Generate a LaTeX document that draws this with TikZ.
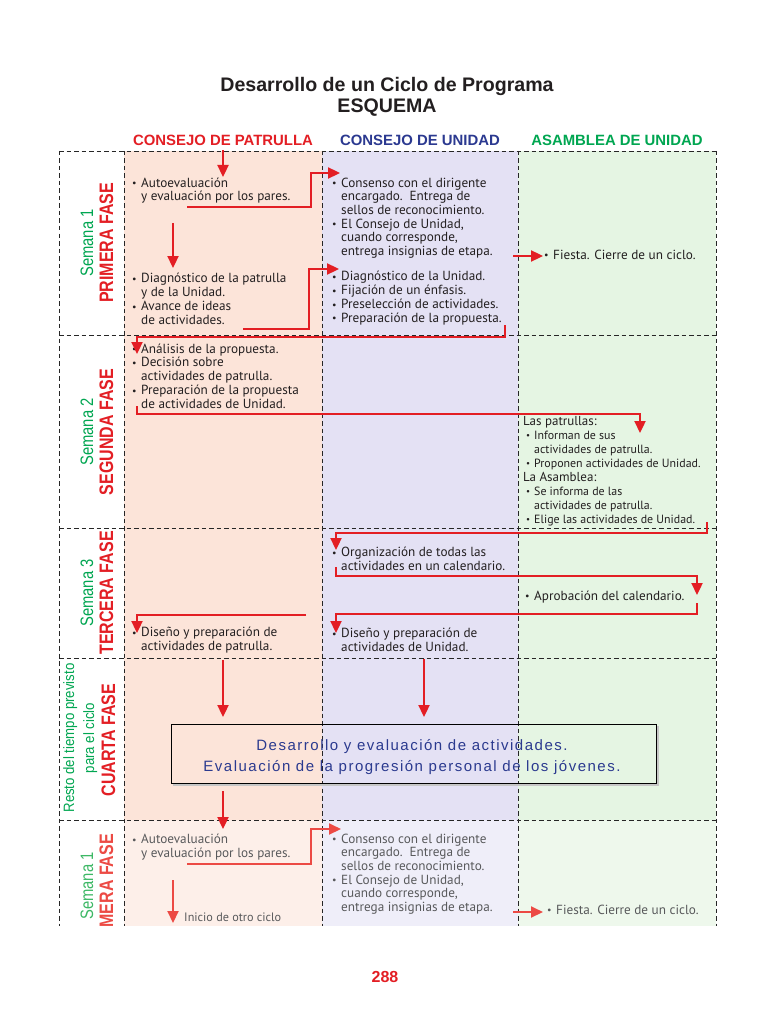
\documentclass[tikz,border=0pt]{standalone}
\usepackage{fontspec}
\setmainfont{PT Sans}
\newfontfamily\arialf{Liberation Sans}
\newfontfamily\boxf[LetterSpace=10]{Liberation Sans}
\usetikzlibrary{arrows.meta}
\definecolor{cred}{HTML}{E31E24}
\definecolor{credl}{HTML}{EC4A44}
\definecolor{cblue}{HTML}{2B3990}
\definecolor{cgreen}{HTML}{00A651}
\definecolor{cgreenl}{HTML}{3DB865}
\definecolor{ctext}{HTML}{231F20}
\definecolor{cgray}{HTML}{58595B}
\definecolor{bgp}{HTML}{FCE4D9}
\definecolor{bgu}{HTML}{E4E1F4}
\definecolor{bga}{HTML}{E5F5E3}
\definecolor{bgpl}{HTML}{FDEFE9}
\definecolor{bgul}{HTML}{EFEEF9}
\definecolor{bgal}{HTML}{EEF8EC}
\definecolor{cbox}{HTML}{2B3A8F}
\newcommand{\bu}{\makebox[9pt][l]{\raisebox{0.3pt}{\scalebox{0.75}{\textbullet}}}}
\newcommand{\ind}{\hspace*{9pt}}
\newcommand{\sbu}{\makebox[3pt]{}\makebox[8pt][l]{\raisebox{0.3pt}{\scalebox{0.75}{\textbullet}}}}
\newcommand{\sind}{\hspace*{11pt}}
\newcommand{\cnd}[1]{\scalebox{0.82}[1]{#1}}
\newcommand{\cnda}[1]{\scalebox{0.88}[1]{#1}}
\begin{document}
\begin{tikzpicture}[x=1pt,y=-1pt,
  dline/.style={draw=black!85, line width=0.75pt, dash pattern=on 4.5pt off 3pt},
  arr/.style={draw=cred, line width=2.3pt, line join=miter, -{Triangle[length=12pt,width=11pt]}},
  arrl/.style={arr, draw=credl, line width=2pt},
  body/.style={font=\fontsize{13.2}{13.7}\selectfont, text=ctext, align=left, anchor=base west, inner sep=0pt},
  bodyl/.style={body, text=cgray},
  small/.style={body, font=\fontsize{11.9}{14}\selectfont},
  fase/.style={font=\arialf\bfseries\fontsize{19.5}{20}\selectfont, text=cred, rotate=90, anchor=base, inner sep=0pt},
  sem/.style={font=\arialf\fontsize{18}{18}\selectfont, text=cgreen, rotate=90, anchor=base, inner sep=0pt},
  sem4/.style={sem, font=\arialf\fontsize{15}{15}\selectfont},
  hdr/.style={font=\arialf\bfseries\fontsize{14.9}{15}\selectfont, anchor=base, inner sep=0pt},
  ttl/.style={font=\arialf\bfseries\fontsize{19.6}{20}\selectfont, text=ctext, anchor=base, inner sep=0pt}
]
\useasboundingbox (0,0) rectangle (768,1024);
\fill[white] (0,0) rectangle (768,1024);
% backgrounds
\fill[bgp] (124,151) rectangle (322,820);
\fill[bgu] (322,151) rectangle (518,820);
\fill[bga] (518,151) rectangle (716,820);
\fill[bgpl] (124,820) rectangle (322,926);
\fill[bgul] (322,820) rectangle (518,926);
\fill[bgal] (518,820) rectangle (716,926);
% grid
\foreach \yy in {151,335,528,658,820} \draw[dline] (59,\yy) -- (716,\yy);
\foreach \xx in {59,124,322,518,716} \draw[dline] (\xx,151) -- (\xx,926);
% title
\node[ttl] (t1) at (387,92) {Desarrollo de un Ciclo de Programa};
\node[ttl] (t2) at (387,113) {ESQUEMA};
\node[hdr, text=cred] (hp) at (223,146) {CONSEJO DE PATRULLA};
\node[hdr, text=cblue] (hu) at (420,146) {CONSEJO DE UNIDAD};
\node[hdr, text=cgreen] (ha) at (617,146) {ASAMBLEA DE UNIDAD};
% labels
\node[sem] (s1) at (93,243) {\cnd{Semana 1}};
\node[fase] (f1) at (113,243) {\cnd{PRIMERA FASE}};
\node[sem] (s2) at (93,432) {\cnd{Semana 2}};
\node[fase] (f2) at (113,432) {\cnd{SEGUNDA FASE}};
\node[sem] (s3) at (93,593) {\cnd{Semana 3}};
\node[fase] (f3) at (113,593) {\cnd{TERCERA FASE}};
\node[sem4] (s4a) at (74,738) {\cnda{Resto del tiempo previsto}};
\node[sem4] (s4b) at (94,738) {\cnda{para el ciclo}};
\node[fase] (f4) at (115,740) {\cnd{CUARTA FASE}};
\node[sem, text=cgreenl] (s5) at (93,886) {\cnd{Semana 1}};
\node[fase, text=credl, anchor=base east] (f5) at (113,834) {\cnd{MERA FASE}};
% row 1 (anchor = baseline of last line)
\node[body] (p1a) at (132,201) {\bu Autoevaluación\\\ind y evaluación por los pares.};
\node[body] (p1b) at (132,324) {\bu Diagnóstico de la patrulla\\\ind y de la Unidad.\\\bu Avance de ideas\\\ind de actividades.};
\node[body] (u1a) at (332,255.5) {\bu Consenso con el dirigente\\\ind encargado.\ \ Entrega de\\\ind sellos de reconocimiento.\\\bu El Consejo de Unidad,\\\ind cuando corresponde,\\\ind entrega insignias de etapa.};
\node[body] (u1b) at (332,322) {\bu Diagnóstico de la Unidad.\\\bu Fijación de un énfasis.\\\bu Preselección de actividades.\\\bu Preparación de la propuesta.};
\node[body] (a1) at (544,259) {\bu Fiesta. Cierre de un ciclo.};
% row 2
\node[body] (p2) at (132,408) {\bu Análisis de la propuesta.\\\bu Decisión sobre\\\ind actividades de patrulla.\\\bu Preparación de la propuesta\\\ind de actividades de Unidad.};
\node[small] (a2) at (523,523) {{\fontsize{13}{14}\selectfont Las patrullas:}\\\sbu Informan de sus\\\sind actividades de patrulla.\\\sbu Proponen actividades de Unidad.\\{\fontsize{13}{14}\selectfont La Asamblea:}\\\sbu Se informa de las\\\sind actividades de patrulla.\\\sbu Elige las actividades de Unidad.};
% row 3
\node[body] (u3a) at (332,570) {\bu Organización de todas las\\\ind actividades en un calendario.};
\node[body] (a3) at (525,600) {\bu Aprobación del calendario.};
\node[body] (u3b) at (332,651) {\bu Diseño y preparación de\\\ind actividades de Unidad.};
\node[body] (p3) at (132,650) {\bu Diseño y preparación de\\\ind actividades de patrulla.};
% row 4 box
\draw[gray!45, line width=1.2pt] (173,785) -- (658,785) -- (658,726);
\node[draw=black, line width=0.6pt, minimum width=485pt, minimum height=59pt, inner sep=0pt] (box) at (413.5,753.5) {};
\node[align=center, text=cbox, font=\boxf\fontsize{15}{21}\selectfont, inner sep=0pt] (boxt) at (412,757.5)
      {Desarrollo y evaluación de actividades.\\Evaluación de la progresión personal de los jóvenes.};
% row 5
\node[bodyl] (p5) at (132,857) {\bu Autoevaluación\\\ind y evaluación por los pares.};
\node[bodyl] (u5) at (332,911.5) {\bu Consenso con el dirigente\\\ind encargado.\ \ Entrega de\\\ind sellos de reconocimiento.\\\bu El Consejo de Unidad,\\\ind cuando corresponde,\\\ind entrega insignias de etapa.};
\node[bodyl] (a5) at (547,914) {\bu Fiesta. Cierre de un ciclo.};
\node[bodyl, font=\fontsize{12.2}{12}\selectfont] (ini) at (184,921) {Inicio de otro ciclo};
% arrow coordinates
\coordinate (A1s) at (223,150); \coordinate (A1e) at (223,177);
\coordinate (A2s) at (187,207); \coordinate (A2a) at (311,207); \coordinate (A2b) at (311,173); \coordinate (A2e) at (340,173);
\coordinate (A3s) at (173,223); \coordinate (A3e) at (173,268);
\coordinate (A4s) at (243,329); \coordinate (A4a) at (309,329); \coordinate (A4b) at (309,269); \coordinate (A4e) at (339,269);
\coordinate (A5s) at (505,325); \coordinate (A5a) at (505,337); \coordinate (A5b) at (137,337); \coordinate (A5e) at (137,354);
\coordinate (A6s) at (137,406); \coordinate (A6a) at (137,414); \coordinate (A6b) at (640,414); \coordinate (A6e) at (640,433);
\coordinate (A7s) at (513,256); \coordinate (A7e) at (543,256);
\coordinate (A8s) at (707,522); \coordinate (A8a) at (707,533); \coordinate (A8b) at (336,533); \coordinate (A8e) at (336,550);
\coordinate (A9s) at (336,567); \coordinate (A9a) at (336,576); \coordinate (A9b) at (697,576); \coordinate (A9e) at (697,595);
\coordinate (A10s) at (697,603); \coordinate (A10a) at (697,614); \coordinate (A10b) at (336,614); \coordinate (A10e) at (336,633);
\coordinate (A11s) at (306,615); \coordinate (A11a) at (137,615); \coordinate (A11e) at (137,633);
\coordinate (A12s) at (223,660); \coordinate (A12e) at (223,717);
\coordinate (A13s) at (424,659); \coordinate (A13e) at (424,717);
\coordinate (A14s) at (223,791); \coordinate (A14e) at (223,829);
\coordinate (A15s) at (187,864); \coordinate (A15a) at (311,864); \coordinate (A15b) at (311,829); \coordinate (A15e) at (341,829);
\coordinate (A16s) at (173,880); \coordinate (A16e) at (173,923);
\coordinate (A17s) at (513,912); \coordinate (A17e) at (543,912);
% arrows
\draw[arr] (A1s) -- (A1e);
\draw[arr] (A2s) -- (A2a) -- (A2b) -- (A2e);
\draw[arr] (A3s) -- (A3e);
\draw[arr] (A4s) -- (A4a) -- (A4b) -- (A4e);
\draw[arr] (A5s) -- (A5a) -- (A5b) -- (A5e);
\draw[arr] (A6s) -- (A6a) -- (A6b) -- (A6e);
\draw[arr] (A7s) -- (A7e);
\draw[arr] (A8s) -- (A8a) -- (A8b) -- (A8e);
\draw[arr] (A9s) -- (A9a) -- (A9b) -- (A9e);
\draw[arr] (A10s) -- (A10a) -- (A10b) -- (A10e);
\draw[arr] (A11s) -- (A11a) -- (A11e);
\draw[arr] (A12s) -- (A12e);
\draw[arr] (A13s) -- (A13e);
\draw[arr] (A14s) -- (A14e);
\draw[arrl] (A15s) -- (A15a) -- (A15b) -- (A15e);
\draw[arrl] (A16s) -- (A16e);
\draw[arrl] (A17s) -- (A17e);
% page number
\node[font=\arialf\bfseries\fontsize{16}{16}\selectfont, text=cred, anchor=base, inner sep=0pt] (pg) at (385,982) {288};
\end{tikzpicture}
\end{document}
